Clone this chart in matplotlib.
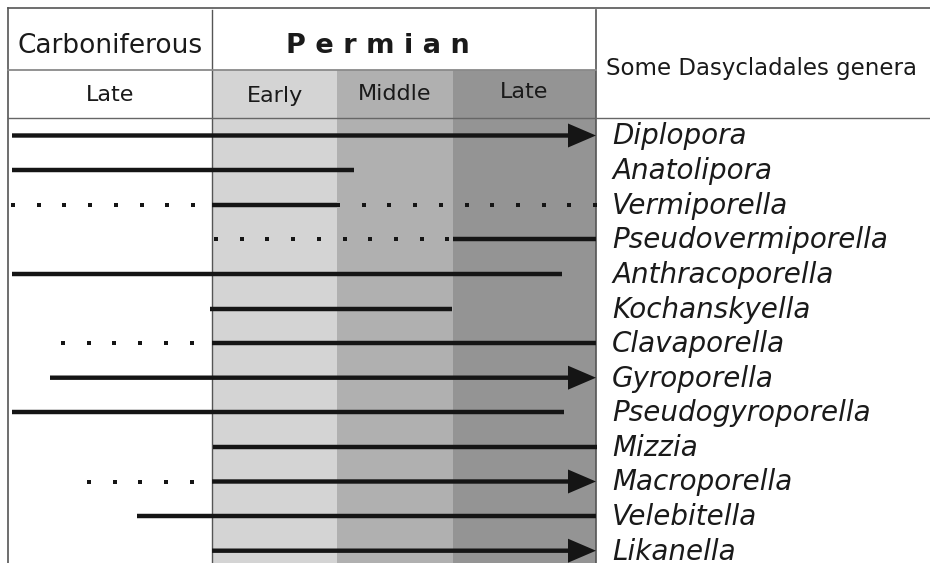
import matplotlib

matplotlib.use("Agg")
import matplotlib.pyplot as plt
import numpy as np

# stratigraphic columns: x extent on the schematic time axis (left -> right = older -> younger)
column_names = ["Late", "Early", "Middle", "Late"]
column_bounds = [8, 212, 337, 453, 596]
column_shades = ["white", "#d4d4d4", "#b0b0b0", "#949494"]

genera = [
    "Diplopora", "Anatolipora", "Vermiporella", "Pseudovermiporella",
    "Anthracoporella", "Kochanskyella", "Clavaporella", "Gyroporella",
    "Pseudogyroporella", "Mizzia", "Macroporella", "Velebitella", "Likanella",
]
# confirmed ranges (solid), read along the time axis
range_start = [12, 12, 212, 453, 12, 210, 212, 50, 12, 213, 212, 137, 212]
range_end = [596, 354, 337, 596, 562, 452, 596, 596, 564, 597, 596, 596, 596]
continues = [True, False, False, False, False, False, False, True, False, False, True, False, True]
# uncertain ranges (dotted): (genus index, start, end)
uncertain = [(2, 13, 192), (2, 338, 596), (3, 216, 448), (6, 63, 192), (10, 89, 192)]

ink = "#151515"
row_top, row_step = 135.5, 34.6
dot_step = 25.7

fig = plt.figure(figsize=(9.3, 5.63), dpi=100)
ax = fig.add_axes([0, 0, 1, 1])
ax.set_xlim(0, 930)
ax.set_ylim(563, 0)
ax.axis("off")

# shaded stages below the period header
for left, right, shade in zip(column_bounds[:-1], column_bounds[1:], column_shades):
    ax.axvspan(left, right, ymin=0, ymax=1 - 70 / 563, color=shade, lw=0, zorder=0)

# frame
frame = "#555555"
ax.plot([8, 930], [8, 8], color=frame, lw=1.2)
ax.plot([8, 8], [8, 563], color=frame, lw=1.2)
ax.plot([212, 212], [10, 563], color=frame, lw=1.0)
ax.plot([596, 596], [10, 563], color=frame, lw=1.2)
ax.plot([8, 596], [70, 70], color="#8a8a8a", lw=1.3)
ax.plot([8, 930], [118, 118], color="#666666", lw=1.0)

# headers
head = "#1a1a1a"
ax.text(110, 46, "Carboniferous", fontsize=19, ha="center", va="center", color=head)
ax.text(378, 46, "P e r m i a n", fontsize=19.5, fontweight="bold", ha="center", va="center", color=head)
sub_y = [95, 96, 94, 92]
for left, right, name, y in zip(column_bounds[:-1], column_bounds[1:], column_names, sub_y):
    ax.text((left + right) / 2, y, name, fontsize=16, ha="center", va="center", color=head)
ax.text(761, 68, "Some Dasycladales genera", fontsize=16.5, ha="center", va="center", color=head)

# ranges
for i, (name, x0, x1, arrow) in enumerate(zip(genera, range_start, range_end, continues)):
    y = row_top + i * row_step
    if arrow:
        ax.arrow(x0, y, x1 - x0, 0, width=4.4, head_width=24, head_length=28,
                 length_includes_head=True, fc=ink, ec="none", zorder=3)
    else:
        ax.plot([x0, x1], [y, y], color=ink, lw=3.2, solid_capstyle="butt", zorder=3)
    ax.text(612, y + 9, name, fontsize=20, style="italic", ha="left", va="baseline", color=head)

for i, x0, x1 in uncertain:
    y = row_top + i * row_step
    xs = np.arange(x0, x1 + 1, dot_step)
    ax.plot(xs, np.full(len(xs), y), "s", ms=3.0, mew=0, color=ink, zorder=3)

fig.savefig("out.png", dpi=100)
plt.close(fig)
